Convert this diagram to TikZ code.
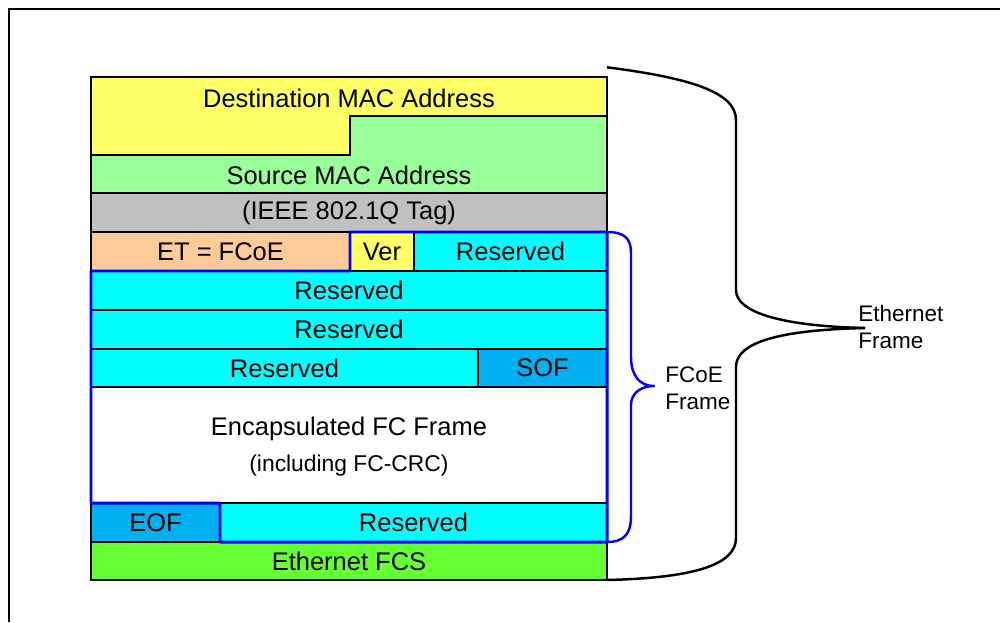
\documentclass[tikz,border=0pt]{standalone}
\usepackage{fontspec}
\setmainfont{Liberation Sans}
\definecolor{dstyellow}{HTML}{FFFF66}
\definecolor{srcgreen}{HTML}{99FF99}
\definecolor{taggray}{HTML}{C0C0C0}
\definecolor{etorange}{HTML}{FFCC99}
\definecolor{rescyan}{HTML}{00FFFF}
\definecolor{sofblue}{HTML}{00B0F0}
\definecolor{fcsgreen}{HTML}{66FF33}
\begin{document}
\begin{tikzpicture}[x=0.02cm,y=-0.02cm]
	\def \px{0.02cm}
	\def \full{516*\px}
	\def \rowht{39*\px}

	\tikzstyle{field}=[rectangle,draw=black,line width=1.1pt,anchor=north west,inner sep=0pt,outer sep=0pt,font=\fontsize{14.5}{17}\selectfont]
	\tikzstyle{ftext}=[inner sep=0pt,font=\fontsize{14.5}{17}\selectfont]
	\tikzstyle{fcoe}=[draw=blue,line width=1.7pt,line join=round]
	\tikzstyle{brace}=[line width=1.4pt]
	\tikzstyle{annot}=[anchor=west,align=left,inner sep=0pt,font=\fontsize{12.8}{15.3}\selectfont]

	\useasboundingbox (0,0) rectangle (1000,622);
	\draw[line width=0.8pt] (9,622) -- (9,9) -- (1000,9);

	% MAC addresses
	\fill[dstyellow] (91,77) -- (607,77) -- (607,116) -- (350,116) -- (350,155) -- (91,155) -- cycle;
	\fill[srcgreen] (350,116) -- (607,116) -- (607,193) -- (91,193) -- (91,155) -- (350,155) -- cycle;
	\draw[line width=1.1pt] (91,77) rectangle (607,193);
	\draw[line width=1.1pt] (91,155) -- (350,155) -- (350,116) -- (607,116);
	\node[ftext] (dst) at (349,98) {Destination MAC Address};
	\node[ftext] (src) at (349,175) {Source MAC Address};

	% header
	\node[field,fill=taggray,minimum width=\full,minimum height=\rowht] (tag) at (91,193) {(IEEE 802.1Q Tag)};
	\node[field,fill=etorange,minimum width=259*\px,minimum height=\rowht] (et) at (91,232) {ET = FCoE};
	\node[field,fill=dstyellow,minimum width=64*\px,minimum height=\rowht] (ver) at (350,232) {Ver};
	\node[field,fill=rescyan,minimum width=193*\px,minimum height=\rowht] (res0) at (414,232) {Reserved};
	\node[field,fill=rescyan,minimum width=\full,minimum height=\rowht] (res1) at (91,271) {Reserved};
	\node[field,fill=rescyan,minimum width=\full,minimum height=\rowht] (res2) at (91,310) {Reserved};
	\node[field,fill=rescyan,minimum width=387*\px,minimum height=38*\px] (res3) at (91,349) {Reserved};
	\node[field,fill=sofblue,minimum width=129*\px,minimum height=38*\px] (sof) at (478,349) {SOF};

	% payload
	\node[field,fill=white,minimum width=\full,minimum height=116*\px] (fcframe) at (91,387) {};
	\node[ftext] (fctitle) at (349,429) {Encapsulated FC Frame};
	\node[ftext,font=\fontsize{13}{15}\selectfont] (fcnote) at (349,466) {(including FC-CRC)};

	% trailer
	\node[field,fill=sofblue,minimum width=129*\px,minimum height=\rowht] (eof) at (91,503) {EOF};
	\node[field,fill=rescyan,minimum width=387*\px,minimum height=\rowht] (res4) at (220,503) {Reserved};
	\node[field,fill=fcsgreen,minimum width=\full,minimum height=38*\px] (fcs) at (91,542) {Ethernet FCS};

	\draw[fcoe] (ver.north west) -- (res0.north east) -- (res4.south east) -- (res4.south west)
		-- (eof.north east) -- (eof.north west) -- (res1.north west) -- (et.south east) -- cycle;

	% braces
	\coordinate (fctip) at (654,386);
	\coordinate (ethtip) at (865,328);
	\node[annot] (fclabel) at (665,388) {FCoE\\Frame};
	\node[annot] (ethlabel) at (858,327) {Ethernet\\Frame};

	\draw[fcoe,line width=1.4pt] (res0.north east) .. controls (624,232) and (631,238) .. (631,253) -- (631,357)
		.. controls (631,376) and (640,386) .. (fctip) .. controls (640,386) and (631,394) .. (631,405) -- (631,516)
		.. controls (631,534) and (624,542) .. (res4.south east);
	\draw[brace] (tag.north east |- dst.north) ++(0,-21) coordinate (ethtop)
		.. controls (690,78) and (736,92) .. (736,120) -- (736,290)
		.. controls (736,312) and (780,326) .. (ethtip);
	\draw[brace] (ethtip) .. controls (780,330) and (736,342) .. (736,367) -- (736,538)
		.. controls (736,566) and (690,578) .. (fcs.south east);
\end{tikzpicture}
\end{document}
